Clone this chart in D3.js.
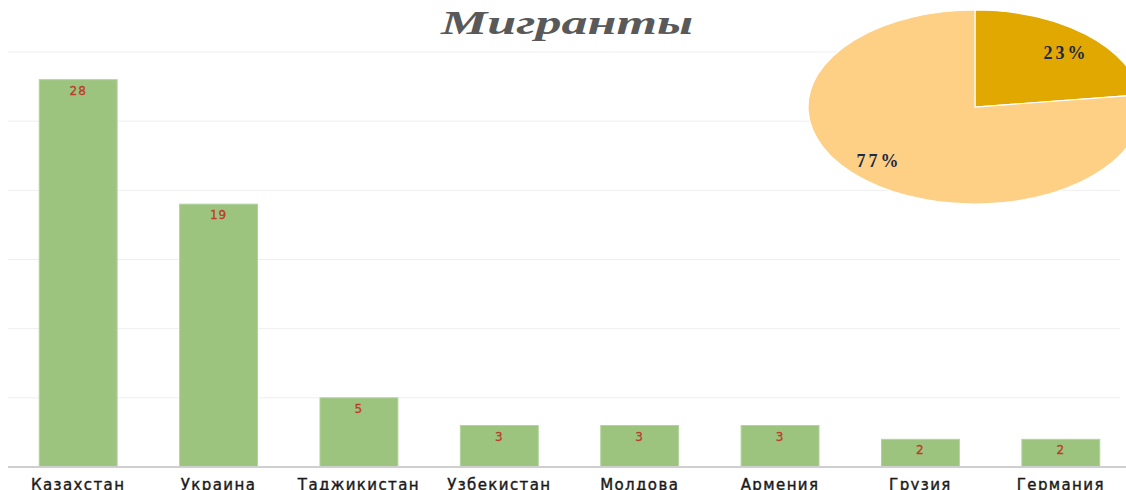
<!DOCTYPE html>
<html>
<head>
<meta charset="utf-8">
<script src="https://cdn.jsdelivr.net/npm/d3@7/dist/d3.min.js"></script>
<style>
  html, body { margin: 0; padding: 0; background: #fff; }
  svg { display: block; }
</style>
</head>
<body>
<div id="chart"></div>
<script>
// --- DATA ---
const countries = ["Казахстан", "Украина", "Таджикистан", "Узбекистан", "Молдова", "Армения", "Грузия", "Германия"];
const counts = [28, 19, 5, 3, 3, 3, 2, 2];
const yTicks = [0, 5, 10, 15, 20, 25, 30];
const pieParts = ["a", "b"];
const pieShares = [23, 77];
const titleText = "Мигранты";

function drawChart() {
  const W = 1126, H = 490;
  const svg = d3.select("#chart").append("svg").attr("width", W).attr("height", H);

  const x = d3.scaleBand().domain(countries).range([8, 1131]).paddingInner(0.445).paddingOuter(0.2225);
  const y = d3.scaleLinear().domain([0, 30]).range([467, 52]);

  // gridlines
  svg.append("g").selectAll("line")
    .data(yTicks.slice(1))
    .enter().append("line")
    .attr("x1", 8).attr("x2", 1120)
    .attr("y1", d => y(d)).attr("y2", d => y(d))
    .attr("stroke", "#efefef").attr("stroke-width", 1);

  // bars
  svg.append("g").selectAll("rect")
    .data(counts)
    .enter().append("rect")
    .attr("x", (d, i) => x(countries[i]))
    .attr("y", d => y(d))
    .attr("width", x.bandwidth())
    .attr("height", d => y(0) - y(d))
    .attr("fill", "#9cc47e")
    .attr("stroke", "#b3d39c").attr("stroke-width", 1);

  // value labels
  svg.append("g").selectAll("text")
    .data(counts)
    .enter().append("text")
    .attr("x", (d, i) => x(countries[i]) + x.bandwidth() / 2)
    .attr("y", d => y(d) + 15)
    .attr("text-anchor", "middle")
    .style("font-family", "DejaVu Sans, sans-serif")
    .style("font-size", "12px")
    .style("letter-spacing", "1px")
    .attr("fill", "#c0392b")
    .attr("stroke", "#c0392b").attr("stroke-width", 0.3)
    .text(d => d);

  // baseline
  svg.append("line")
    .attr("x1", 8).attr("x2", 1126)
    .attr("y1", y(0)).attr("y2", y(0))
    .attr("stroke", "#cfcfcf").attr("stroke-width", 2);

  // category labels
  const xAxis = svg.append("g").attr("transform", `translate(0,${y(0)})`)
    .call(d3.axisBottom(x).tickSize(0).tickPadding(12));
  xAxis.select(".domain").remove();
  xAxis.selectAll("text")
    .style("font-family", "DejaVu Sans, sans-serif")
    .style("font-size", "15px")
    .style("letter-spacing", "1.4px")
    .attr("fill", "#1a1a1a")
    .attr("stroke", "#1a1a1a").attr("stroke-width", 0.4);

  // title
  svg.append("text")
    .attr("x", 441).attr("y", 34)
    .attr("textLength", 252)
    .attr("lengthAdjust", "spacingAndGlyphs")
    .style("font-family", "Liberation Serif, serif")
    .style("font-weight", "bold")
    .style("font-style", "italic")
    .style("font-size", "34px")
    .attr("fill", "#595959")
    .text(titleText);

  // pie (elliptical)
  const pieColor = d3.scaleOrdinal().domain(pieParts).range(["#e0a800", "#fed086"]);
  const pie = d3.pie().sort(null).value(d => d.v);
  const arcs = pie(pieParts.map((p, i) => ({ k: p, v: pieShares[i] })));
  const R = 100;
  const arc = d3.arc().innerRadius(0).outerRadius(R);
  const pg = svg.append("g")
    .attr("transform", `translate(975,107) scale(${167 / R},${97 / R})`);
  pg.selectAll("path")
    .data(arcs)
    .enter().append("path")
    .attr("d", arc)
    .attr("fill", d => pieColor(d.data.k))
    .attr("stroke", "#fff").attr("stroke-width", 1.2)
    .attr("vector-effect", "non-scaling-stroke");

  const labelPos = [[1066, 59], [879, 167]];
  svg.append("g").selectAll("text")
    .data(arcs)
    .enter().append("text")
    .attr("x", (d, i) => labelPos[i][0])
    .attr("y", (d, i) => labelPos[i][1])
    .attr("text-anchor", "middle")
    .style("font-family", "Liberation Serif, serif")
    .style("font-weight", "bold")
    .style("font-size", "18px")
    .style("letter-spacing", "3px")
    .attr("fill", "#1f2a44")
    .text(d => d3.format(".0f")(d.data.v) + "%");
}

drawChart();
</script>
</body>
</html>
